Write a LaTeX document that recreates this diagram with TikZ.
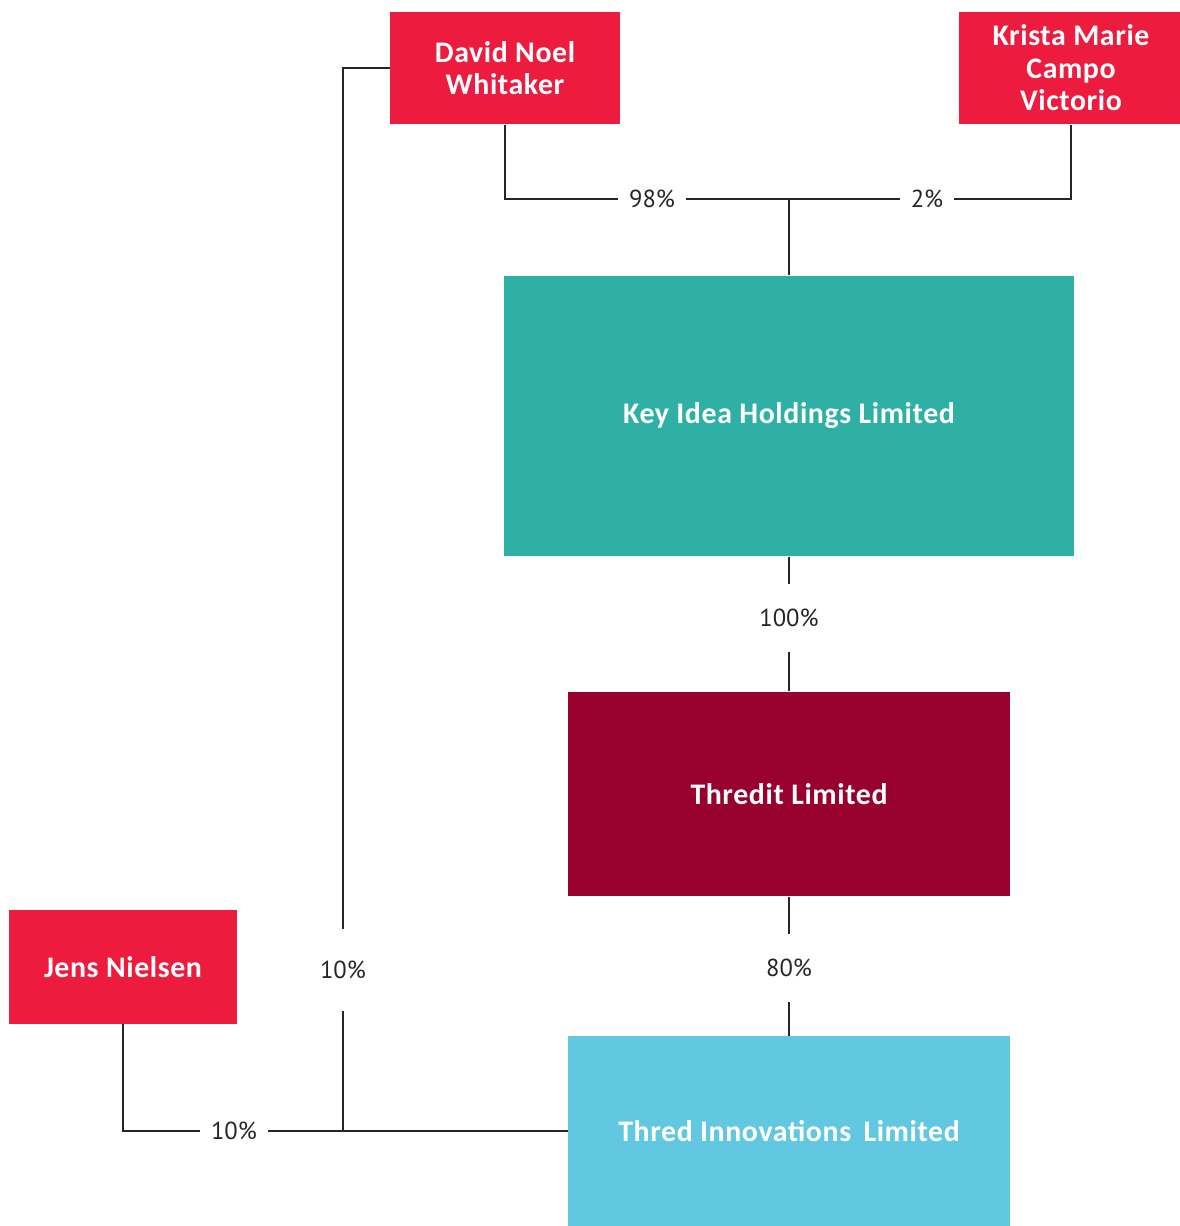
\documentclass[tikz,border=0pt]{standalone}
\usepackage{fontspec}
\setmainfont{Carlito}[LetterSpace=2]
\newfontfamily\pctfont{PT Sans}
\usepackage{tikz}
\usetikzlibrary{positioning}
\definecolor{ownerred}{HTML}{ED1B3D}
\definecolor{holdteal}{HTML}{2EB0A4}
\definecolor{opmaroon}{HTML}{98002D}
\definecolor{subblue}{HTML}{62C8E2}

\begin{document}
\begin{tikzpicture}[x=0.02cm,y=-0.02cm,
  box/.style={text=white,align=center,inner sep=0pt,
    font=\bfseries\fontsize{17}{18.5}\selectfont},
  owner/.style={box,fill=ownerred,minimum width=4.6cm,minimum height=2.26cm},
  pct/.style={text=black!85,inner xsep=6pt,inner ysep=14pt,
    font=\pctfont\fontsize{14}{16}\selectfont},
  conn/.style={line width=1.1pt,black!85}]
\useasboundingbox (0,0) rectangle (1179,1226);
\node[owner] (david) at (505,68) {David Noel\\Whitaker};
\node[owner,minimum width=4.5cm] (krista) at (1071,68) {Krista Marie\\Campo\\Victorio};
\node[owner,minimum width=4.58cm,minimum height=2.28cm] (jens) at (123,967) {Jens Nielsen};
\node[box,fill=holdteal,minimum width=11.4cm,minimum height=5.62cm] (key) at (789,416) {Key Idea Holdings Limited};
\node[box,fill=opmaroon,minimum width=8.84cm,minimum height=4.1cm] (thredit) at (789,794) {Thredit Limited};
\node[box,fill=subblue,minimum width=8.84cm,minimum height=3.8cm] (thred) at (789,1131) {Thred Innovations\, Limited};

\node[pct] (p98) at (652,199) {98\%};
\node[pct] (p2) at (927,199) {2\%};
\coordinate (jk) at (789,199);
\node[pct] (p100) at (789,618) {100\%};
\node[pct] (p80) at (789,968) {80\%};
\node[pct,inner ysep=18pt] (p10a) at (343,970) {10\%};
\node[pct] (p10b) at (234,1131) {10\%};

\draw[conn] (david.south) |- (p98);
\draw[conn] (p98) -- (p2);
\draw[conn] (krista.south) |- (p2);
\draw[conn] (jk) -- (key.north);
\draw[conn] (key) -- (p100);
\draw[conn] (p100) -- (thredit);
\draw[conn] (thredit) -- (p80);
\draw[conn] (p80) -- (thred);
\draw[conn] (david.west) -| (p10a);
\draw[conn] (p10a) |- (thred.west);
\draw[conn] (jens.south) |- (p10b);
\draw[conn] (p10b) -- (thred.west);
\end{tikzpicture}
\end{document}
